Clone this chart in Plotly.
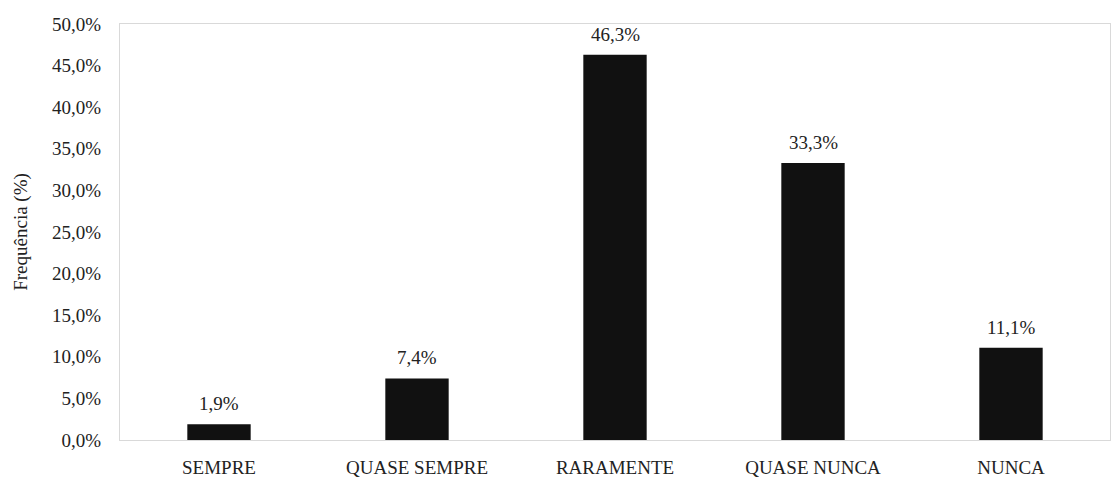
import plotly.graph_objects as go

# dados do grafico
categorias = ["SEMPRE", "QUASE SEMPRE", "RARAMENTE", "QUASE NUNCA", "NUNCA"]
frequencias = [1.9, 7.4, 46.3, 33.3, 11.1]
rotulos = ["1,9%", "7,4%", "46,3%", "33,3%", "11,1%"]
y_ticks = [0, 5, 10, 15, 20, 25, 30, 35, 40, 45, 50]
y_ticks_text = ["%.1f%%" % v for v in y_ticks]
y_ticks_text = [t.replace(".", ",") for t in y_ticks_text]

fonte = "Liberation Serif"

fig = go.Figure()

fig.add_trace(go.Bar(x=categorias, y=frequencias, marker=dict(color="#111111", line=dict(width=0)),
                     width=0.32, showlegend=False))

# rotulos acima das barras
for c, v, t in zip(categorias, frequencias, rotulos):
    fig.add_annotation(x=c, y=v, text=t, showarrow=False, yanchor="bottom", yshift=8,
                       font=dict(family=fonte, size=19, color="#222222"))

fig.update_layout(
    width=1115, height=479, autosize=False,
    paper_bgcolor="white", plot_bgcolor="white",
    margin=dict(l=120, r=5, t=24, b=39),
    font=dict(family=fonte, size=19, color="#222222"),
    xaxis=dict(showline=True, linecolor="#d9d9d9", linewidth=1, mirror=True, ticks="",
               showgrid=False, tickfont=dict(family=fonte, size=19), ticklabelstandoff=10,
               automargin=False),
    yaxis=dict(range=[0, 50], tickvals=y_ticks, ticktext=y_ticks_text, showgrid=False,
               zeroline=False, showline=True, linecolor="#d9d9d9", linewidth=1, mirror=True,
               ticks="", tickfont=dict(family=fonte, size=19), ticklabelstandoff=14,
               automargin=False,
               title=dict(text="Frequência (%)", font=dict(family=fonte, size=19), standoff=19)),
)

# tira a margem padrao do body da pagina
fig.write_html("out.html", config={"displayModeBar": False},
               post_script="document.body.style.margin='0';")
